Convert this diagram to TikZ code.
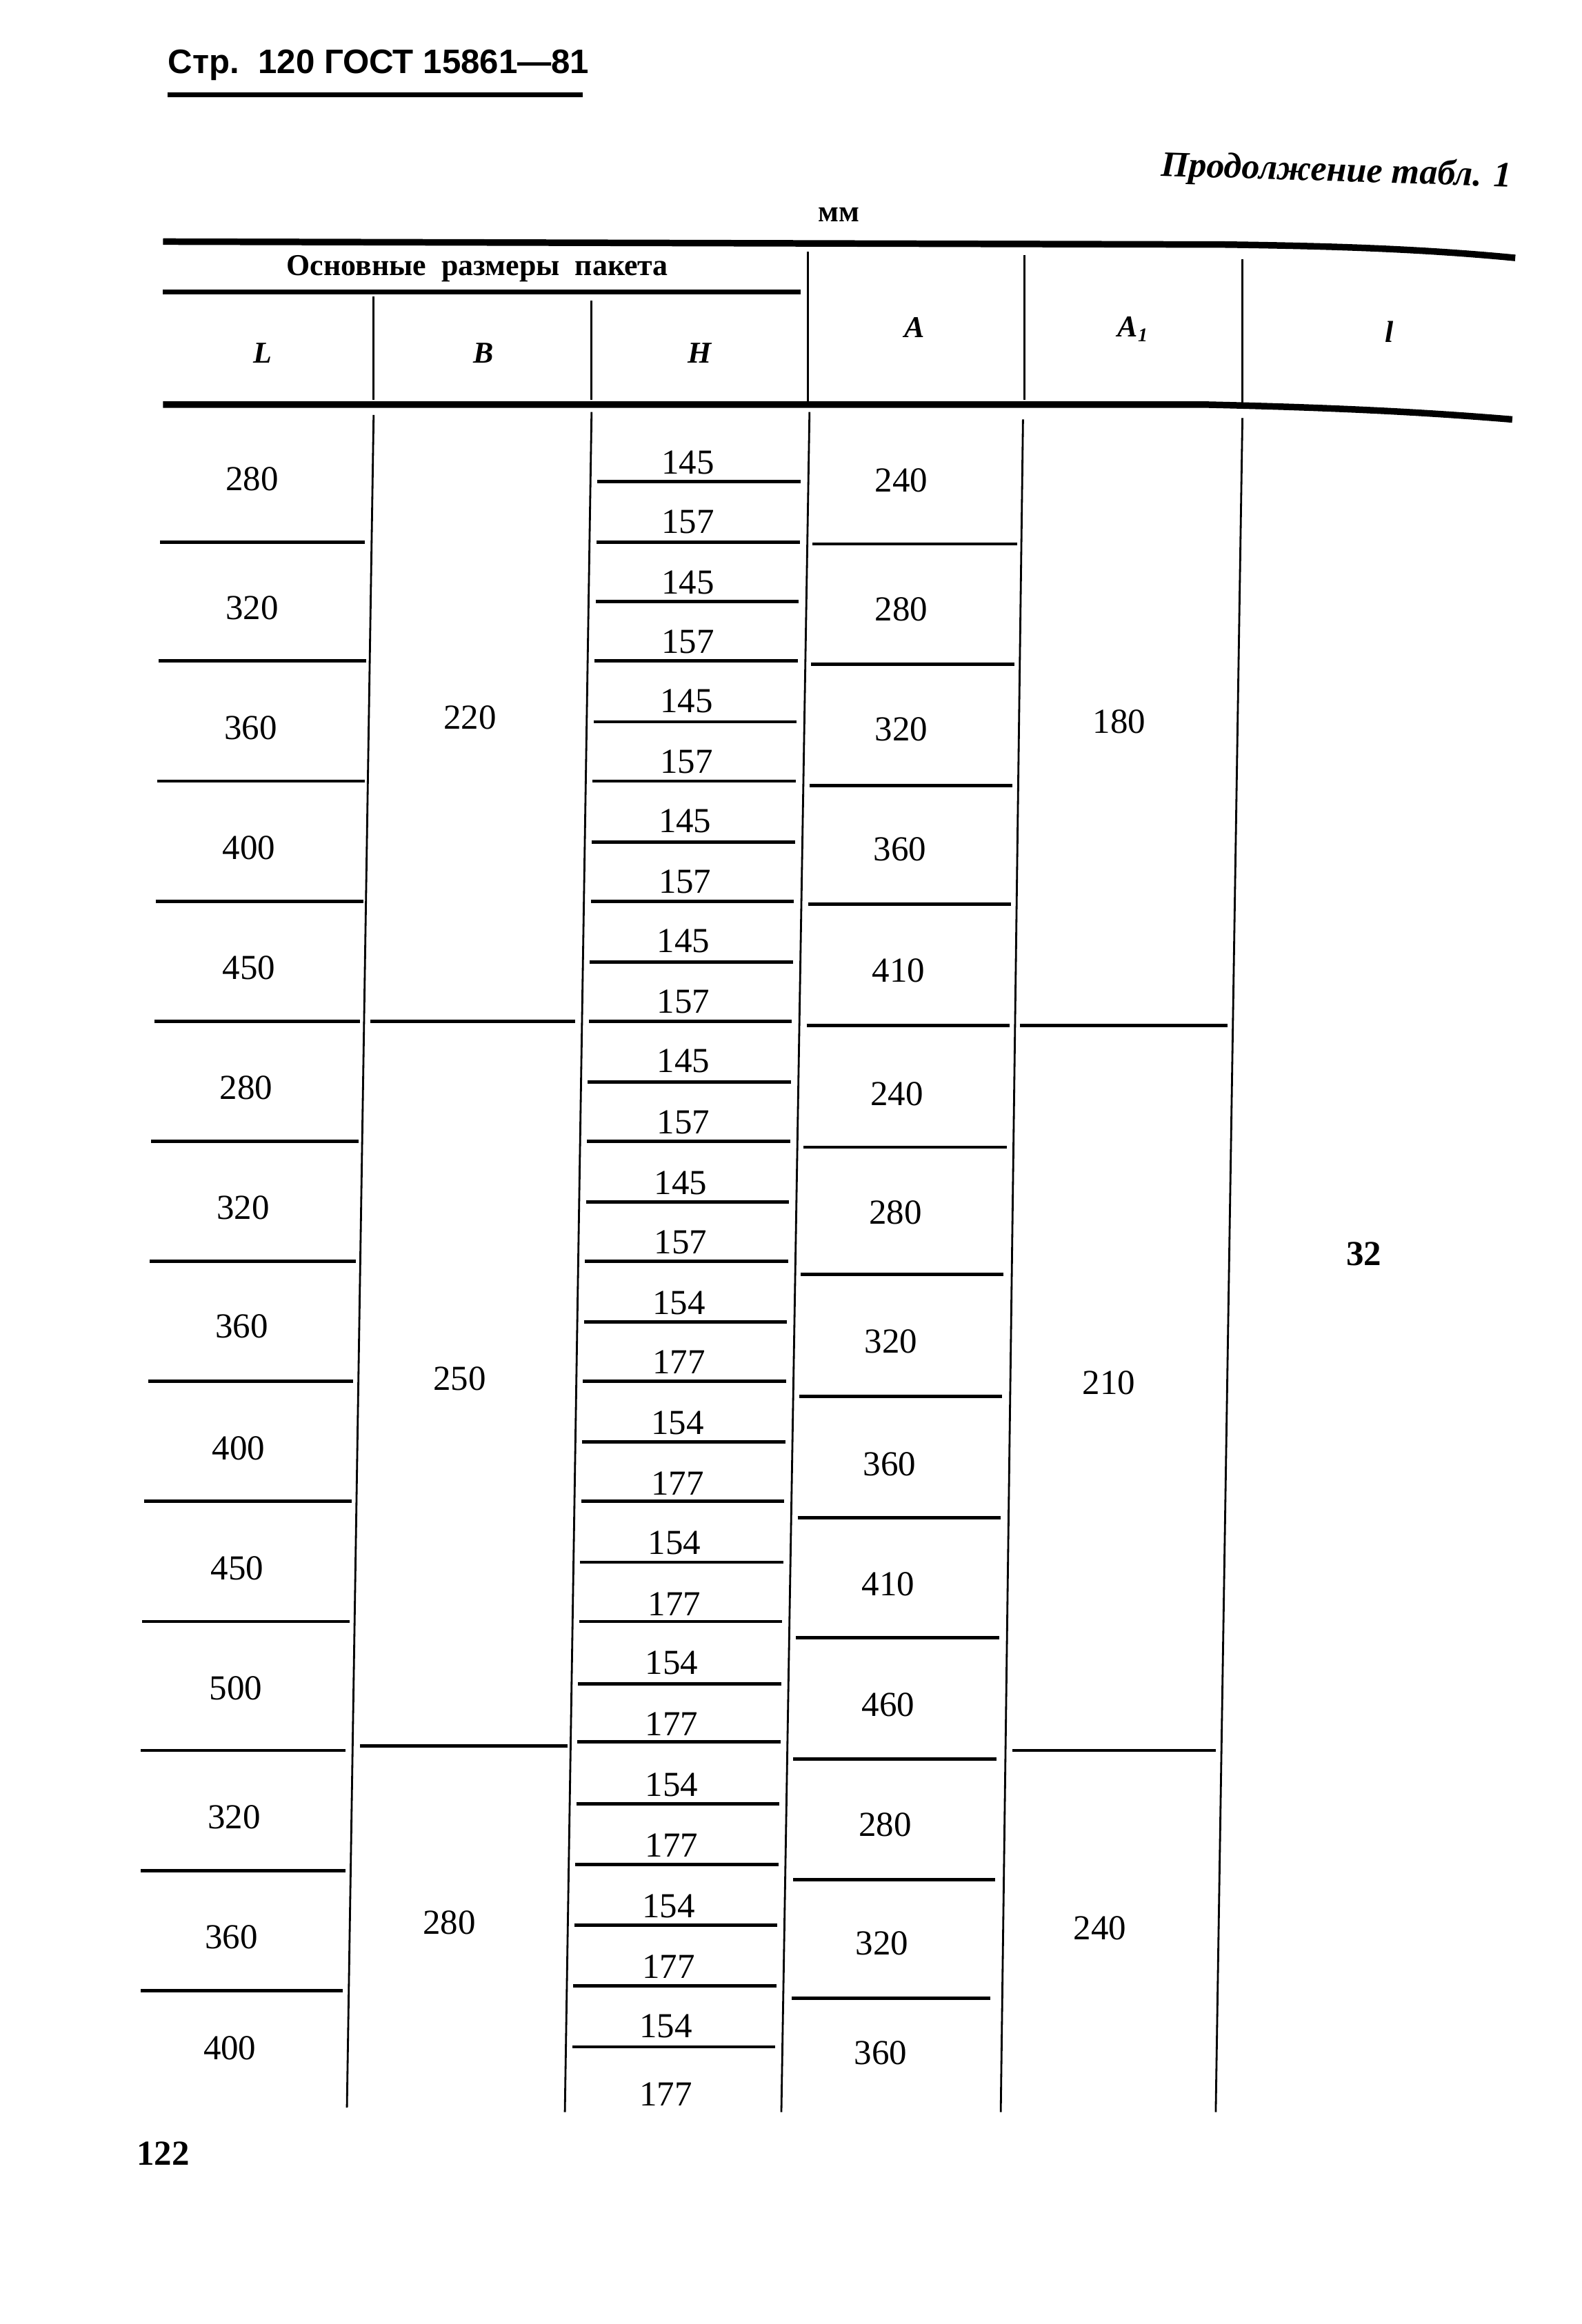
\documentclass[tikz,border=0pt]{standalone}
\usepackage{fontspec}
\setmainfont{Liberation Serif}
\newfontfamily\titlefont{Liberation Sans}
\begin{document}
\begin{tikzpicture}[x=0.215mm,y=-0.215mm,
  num/.style={inner sep=0pt,font=\fontsize{14.5}{16}\selectfont},
  hdr/.style={inner sep=0pt,font=\fontsize{12.5}{14}\selectfont\bfseries\itshape},
  heavy/.style={line width=2.7pt},
  mid/.style={line width=1.8pt},
  sep/.style={line width=1.4pt},
  vline/.style={line width=0.8pt}]
\useasboundingbox (0,0) rectangle (1067,1568);
\fill[white] (0,0) rectangle (1067,1568);

% page head
\node[inner sep=0pt,anchor=west,font=\titlefont\fontsize{14}{16}\selectfont\bfseries] (title) at (113,44) {Стр.\ \ 120\ ГОСТ 15861—81};
\draw[mid] (113,64) -- (393,64);
\node[inner sep=0pt,anchor=east,rotate=-1.8,font=\fontsize{14.8}{17}\selectfont\bfseries\itshape] (cont) at (1020,120) {Продолжение табл. 1};
\node[inner sep=0pt,font=\fontsize{12.5}{14}\selectfont\bfseries] (mm) at (566,145) {мм};

% heavy rules
\draw[heavy] (110,163) -- (826,165) .. controls (900,166) and (960,168) .. (1022,174);
\draw[heavy] (110,273) -- (814,273) .. controls (900,275) and (960,278) .. (1020,283);

% header
\node[inner sep=0pt,font=\fontsize{12.5}{14}\selectfont\bfseries] (osn) at (322,181) {Основные\ \ размеры\ \ пакета};
\draw[mid] (110,197) -- (540,197);
\draw[vline] (252,200) -- (252,270);
\draw[vline] (399,203) -- (399,270);
\draw[vline] (545,170) -- (545,272);
\draw[vline] (691,172) -- (691,270);
\draw[vline] (838,175) -- (838,272);
\node[hdr] (hL) at (177,238) {L};
\node[hdr] (hB) at (326,238) {B};
\node[hdr] (hH) at (472,238) {H};
\node[hdr] (hA) at (617,221) {A};
\node[hdr] (hA1) at (764,222) {A\raisebox{-0.35ex}{\fontsize{8}{9}\selectfont 1}};
\node[hdr] (hl) at (937,224) {l};

% body verticals
\draw[vline] (252,280) -- (234,1422);
\draw[vline] (399,278) -- (381,1425);
\draw[vline] (546,278) -- (527,1425);
\draw[vline] (690,283) -- (675,1425);
\draw[vline] (838,282) -- (820,1425);

% L column
\foreach \x/\y/\t [count=\i] in {170/323/280,170/410/320,169/491/360,168/572/400,168/653/450,166/734/280,164/815/320,163/895/360,161/977/400,160/1058/450,159/1139/500,158/1226/320,156/1307/360,155/1382/400}
  \node[num] (L\i) at (\x,\y) {\t};
\foreach \y/\a/\b in {366/108/246,446/107/247,527/106/246,608/105/245,689/104/243,770/102/242,851/101/240,932/100/238,1013/97/237,1094/96/236,1181/95/233,1262/95/233,1343/95/231}
  \draw[sep] (\a,\y) -- (\b,\y);

% B column
\node[num] (B1) at (317,484) {220};
\node[num] (B2) at (310,930) {250};
\node[num] (B3) at (303,1297) {280};
\draw[sep] (250,689) -- (388,689);
\draw[sep] (243,1178) -- (383,1178);

% H column
\foreach \x/\ya/\yb/\ta/\tb [count=\i] in {464/312/352/145/157,464/393/433/145/157,463/473/514/145/157,462/554/595/145/157,461/635/676/145/157,461/716/757/145/157,459/798/838/145/157,458/879/919/154/177,457/960/1001/154/177,455/1041/1082/154/177,453/1122/1163/154/177,453/1204/1245/154/177,451/1286/1327/154/177,449/1367/1413/154/177}
{
  \node[num] (Ha\i) at (\x,\ya) {\ta};
  \node[num] (Hb\i) at (\x,\yb) {\tb};
}
\foreach \y in {325,366,406,446,487,527,568,608,649,689,730,770,811,851,892,932,973,1013,1054,1094,1136,1175,1217,1258,1299,1340,1381}
{
  \pgfmathsetmacro\xa{403-(\y-325)*0.0161}
  \pgfmathsetmacro\xb{540-(\y-325)*0.0161}
  \draw[sep] (\xa,\y) -- (\xb,\y);
}

% A column
\foreach \x/\y/\t [count=\i] in {608/324/240,608/411/280,608/492/320,607/573/360,606/655/410,605/738/240,604/818/280,601/905/320,600/988/360,599/1069/410,599/1150/460,597/1231/280,595/1311/320,594/1385/360}
  \node[num] (A\i) at (\x,\y) {\t};
\foreach \y/\a/\b in {367/548/686,448/547/684,530/546/683,610/545/682,692/544/681,774/542/679,860/540/677,942/539/676,1024/538/675,1105/537/674,1187/535/672,1268/535/671,1348/534/668}
  \draw[sep] (\a,\y) -- (\b,\y);

% A1 column
\node[num] (Ao1) at (755,487) {180};
\node[num] (Ao2) at (748,933) {210};
\node[num] (Ao3) at (742,1301) {240};
\draw[sep] (688,692) -- (828,692);
\draw[sep] (683,1181) -- (820,1181);

% l column
\node[num,font=\fontsize{14.5}{16}\selectfont\bfseries] (l1) at (920,846) {32};

% page number
\node[inner sep=0pt,font=\fontsize{14.5}{16}\selectfont\bfseries] (pg) at (110,1453) {122};
\end{tikzpicture}
\end{document}
